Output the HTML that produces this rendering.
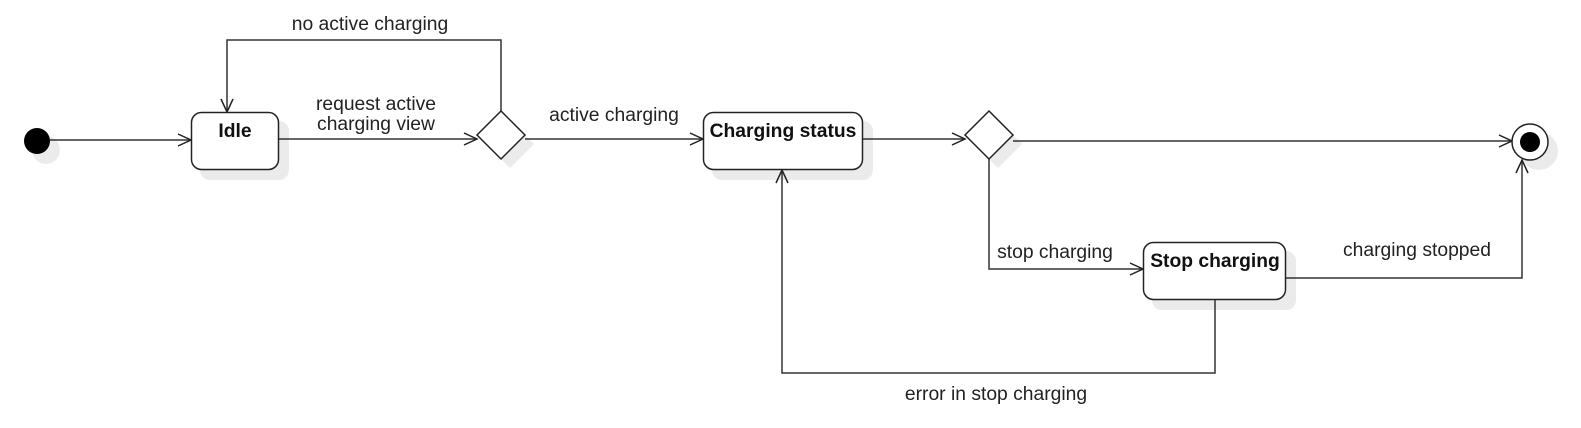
<!DOCTYPE html>
<html><head><style>html,body{margin:0;padding:0;background:#fff}svg{display:block}</style></head>
<body>
<svg width="1581" height="428" xmlns="http://www.w3.org/2000/svg" font-family="Liberation Sans, sans-serif">
<defs>
<marker id="a" markerWidth="16" markerHeight="14" refX="14" refY="7" orient="auto" markerUnits="userSpaceOnUse">
<path d="M1,1 L14,7 L1,13" fill="none" stroke="#222" stroke-width="1.5"/>
</marker>
</defs>
<g fill="#ebebeb">
<circle cx="46" cy="150" r="14"/>
<rect x="200" y="121" width="89" height="59" rx="10"/>
<polygon points="510,120 534,144 510,168 486,144"/>
<rect x="712" y="121" width="161" height="59" rx="10"/>
<polygon points="998,120 1022,144 998,168 974,144"/>
<rect x="1152" y="251" width="144" height="59" rx="10"/>
<circle cx="1539" cy="151" r="19"/>
</g>
<g fill="none" stroke="#333" stroke-width="1.5">
<line x1="50" y1="140" x2="191" y2="140" marker-end="url(#a)"/>
<line x1="279" y1="139" x2="477" y2="139" marker-end="url(#a)"/>
<polyline points="501,111 501,40 227,40 227,112" marker-end="url(#a)"/>
<line x1="525" y1="139" x2="703" y2="139" marker-end="url(#a)"/>
<line x1="863" y1="139" x2="965" y2="139" marker-end="url(#a)"/>
<line x1="1013" y1="141" x2="1512" y2="141" marker-end="url(#a)"/>
<polyline points="989,159 989,269 1143,269" marker-end="url(#a)"/>
<polyline points="1286,278 1522,278 1522,160" marker-end="url(#a)"/>
<polyline points="1215,300 1215,373 782,373 782,170" marker-end="url(#a)"/>
</g>
<circle cx="37" cy="141" r="13" fill="#000"/>
<g fill="#fff" stroke="#222" stroke-width="1.5">
<rect x="191.5" y="112.5" width="87" height="57" rx="10"/>
<polygon points="501,111 525,135 501,159 477,135"/>
<rect x="703.5" y="112.5" width="159" height="57" rx="10"/>
<polygon points="989,111 1013,135 989,159 965,135"/>
<rect x="1143.5" y="242.5" width="142" height="57" rx="10"/>
<circle cx="1530" cy="142" r="18"/>
</g>
<circle cx="1530" cy="142" r="10" fill="#000"/>
<g font-size="19.3" font-weight="bold" fill="#111" text-anchor="middle">
<text x="235" y="137">Idle</text>
<text x="783" y="137">Charging status</text>
<text x="1215" y="267">Stop charging</text>
</g>
<g font-size="19.3" fill="#222" text-anchor="middle">
<text x="370" y="30">no active charging</text>
<text x="376" y="110">request active</text>
<text x="376" y="130">charging view</text>
<text x="614" y="121">active charging</text>
<text x="1055" y="258">stop charging</text>
<text x="1417" y="256">charging stopped</text>
<text x="996" y="400">error in stop charging</text>
</g>
</svg>
</body></html>
